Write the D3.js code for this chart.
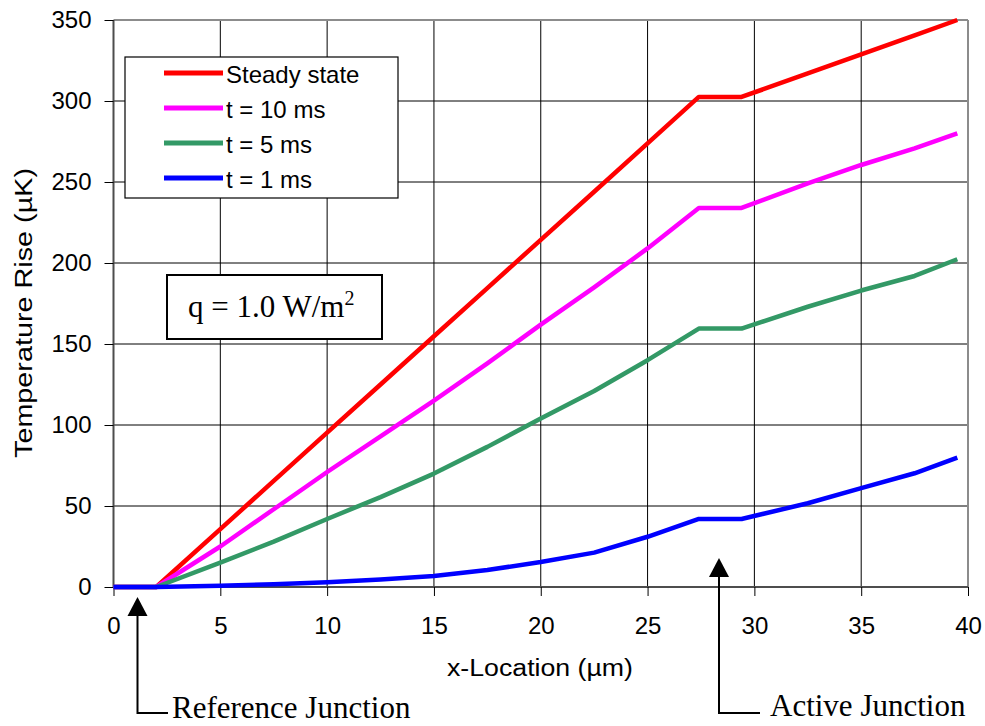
<!DOCTYPE html>
<html>
<head>
<meta charset="utf-8">
<script src="https://cdn.jsdelivr.net/npm/d3@7/dist/d3.min.js"></script>
<style>
  html, body { margin: 0; padding: 0; background: #fff; }
  svg { display: block; }
  .sans { font-family: Arial, "Liberation Sans", sans-serif; }
  .serif { font-family: "Times New Roman", "Liberation Serif", serif; }
</style>
</head>
<body>
<svg id="chart" width="985" height="726"></svg>
<script>
// Position along the bridge (µm)
const xLocations = [0, 2, 5, 7.5, 10, 12.5, 15, 17.5, 20, 22.5, 25, 27.4, 29.4, 32.5, 35, 37.5, 39.5];

// Temperature rise (µK) for each heating time
const steadyState = [0, 0, 35.7, 65.5, 95.3, 125, 154.8, 184.5, 214.3, 244, 273.8, 302.5, 302.5, 317, 328.8, 340.5, 350];
const t10ms       = [0, 0, 25, 48, 71, 93, 115, 138, 162, 185, 209, 234, 234, 249.2, 260.5, 270.8, 280];
const t5ms        = [0, 0, 15, 28, 42, 55.5, 70, 86.5, 104, 121, 140, 159.5, 159.5, 173, 183, 192, 202.3];
const t1ms        = [0, 0, 0.8, 1.7, 2.9, 4.6, 6.8, 10.5, 15.4, 21.2, 31, 42, 42, 51.7, 61, 70.2, 79.8];

const seriesNames  = ["Steady state", "t = 10 ms", "t = 5 ms", "t = 1 ms"];
const seriesValues = [steadyState, t10ms, t5ms, t1ms];
const seriesColors = ["#ff0000", "#ff00ff", "#339966", "#0000ff"];

const xTicks = [0, 5, 10, 15, 20, 25, 30, 35, 40];
const yTicks = [0, 50, 100, 150, 200, 250, 300, 350];

const svg = d3.select("#chart");

const x = d3.scaleLinear().domain([0, 40]).range([113.5, 968]);
const y = d3.scaleLinear().domain([0, 350]).range([587, 20]);

// Grid
const grid = svg.append("g");
grid.selectAll("line.v").data(xTicks.slice(1, -1)).join("line")
  .attr("x1", d => x(d)).attr("x2", d => x(d))
  .attr("y1", y(350)).attr("y2", y(0))
  .attr("stroke", "#000").attr("stroke-width", 1);
grid.selectAll("line.h").data(yTicks.slice(1, -1)).join("line")
  .attr("x1", x(0)).attr("x2", x(40))
  .attr("y1", d => y(d)).attr("y2", d => y(d))
  .attr("stroke", "#000").attr("stroke-width", 1);

// Plot frame: top and right edges
svg.append("line").attr("x1", x(0)).attr("x2", x(40)).attr("y1", y(350)).attr("y2", y(350))
  .attr("stroke", "#8c8c8c").attr("stroke-width", 2);
svg.append("line").attr("x1", x(40)).attr("x2", x(40)).attr("y1", y(350)).attr("y2", y(0))
  .attr("stroke", "#8c8c8c").attr("stroke-width", 2);

// Axes
const yAxis = svg.append("g").attr("transform", `translate(${x(0)},0)`)
  .call(d3.axisLeft(y).tickValues(yTicks).tickSize(9).tickPadding(13));
const xAxis = svg.append("g").attr("transform", `translate(0,${y(0)})`)
  .call(d3.axisBottom(x).tickValues(xTicks).tickSize(9).tickPadding(21));
[xAxis, yAxis].forEach(g => {
  g.select(".domain").attr("stroke", "#4d4d4d").attr("stroke-width", 2);
  g.selectAll(".tick line").attr("stroke", "#000").attr("stroke-width", 1);
  g.selectAll(".tick text").attr("class", "sans").attr("font-size", 24).attr("fill", "#000");
});
yAxis.select(".domain").attr("d", `M0,${y(0)}V${y(350)}`);
xAxis.select(".domain").attr("d", `M${x(0)},0H${x(40)}`);

// Axis titles
svg.append("text").attr("class", "sans")
  .attr("x", 540).attr("y", 676).attr("text-anchor", "middle")
  .attr("font-size", 23).attr("textLength", 186).attr("lengthAdjust", "spacingAndGlyphs")
  .text("x-Location (µm)");
svg.append("text").attr("class", "sans")
  .attr("transform", "translate(32,313) rotate(-90)").attr("text-anchor", "middle")
  .attr("font-size", 23).attr("textLength", 290).attr("lengthAdjust", "spacingAndGlyphs")
  .text("Temperature Rise (µK)");

// Curves
const line = d3.line().x(d => x(d[0])).y(d => y(d[1]));
seriesValues.forEach((vals, i) => {
  svg.append("path")
    .datum(xLocations.map((xv, j) => [xv, vals[j]]))
    .attr("d", line)
    .attr("fill", "none")
    .attr("stroke", seriesColors[i])
    .attr("stroke-width", 4.5)
    .attr("stroke-linejoin", "round");
});

// Legend
const legend = svg.append("g");
legend.append("rect").attr("x", 125).attr("y", 57).attr("width", 273).attr("height", 141)
  .attr("fill", "#fff").attr("stroke", "#000").attr("stroke-width", 1.2);
seriesNames.forEach((name, i) => {
  const ly = 73 + i * 35;
  legend.append("line").attr("x1", 164).attr("x2", 223).attr("y1", ly).attr("y2", ly)
    .attr("stroke", seriesColors[i]).attr("stroke-width", 5);
  legend.append("text").attr("class", "sans").attr("x", 226).attr("y", ly + 10)
    .attr("font-size", 24).text(name);
});

// Heat flux note
svg.append("rect").attr("x", 167).attr("y", 275).attr("width", 215).attr("height", 64)
  .attr("fill", "#fff").attr("stroke", "#000").attr("stroke-width", 2);
const note = svg.append("text").attr("class", "serif")
  .attr("x", 188).attr("y", 317).attr("font-size", 31);
note.append("tspan").text("q = 1.0 W/m");
note.append("tspan").attr("font-size", 20).attr("dy", -12).text("2");

// Junction markers
function junction(xPos, tipY, cornerY, endX, label, textX, textY) {
  const g = svg.append("g");
  g.append("path")
    .attr("d", `M${xPos},${tipY + 18}V${cornerY}H${endX}`)
    .attr("fill", "none").attr("stroke", "#000").attr("stroke-width", 2);
  g.append("path")
    .attr("d", `M${xPos},${tipY}L${xPos - 10},${tipY + 19}L${xPos + 10},${tipY + 19}Z`)
    .attr("fill", "#000");
  g.append("text").attr("class", "serif").attr("x", textX).attr("y", textY)
    .attr("font-size", 31).text(label);
}
junction(137.5, 597, 713, 168, "Reference Junction", 172, 718);
junction(719, 558, 713, 760, "Active Junction", 770, 716);
</script>
</body>
</html>
